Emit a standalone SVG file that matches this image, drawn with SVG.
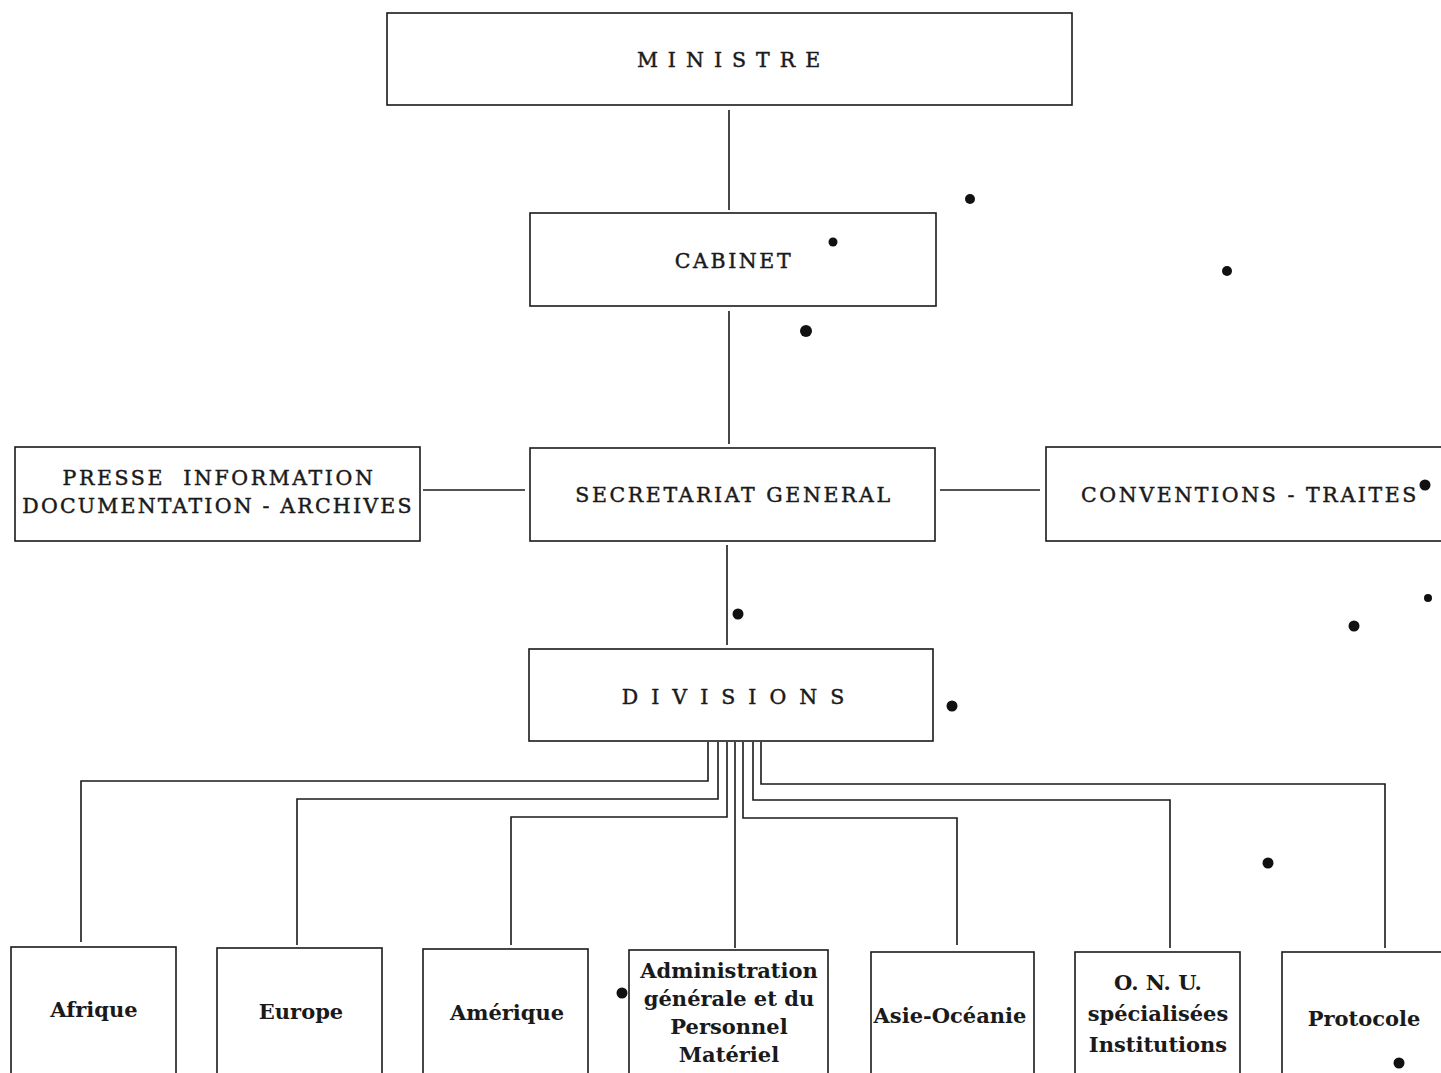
<svg xmlns="http://www.w3.org/2000/svg" width="1441" height="1073" viewBox="0 0 1441 1073">
<style>
.box{fill:#fff;stroke:#1a1a1a;stroke-width:1.6}
.t{font-family:"DejaVu Serif","Liberation Serif",serif;font-size:21px;font-weight:bold;fill:#1a1a1a;text-anchor:middle}
.cap{font-size:20.5px;font-weight:normal;letter-spacing:2.6px;stroke:#1a1a1a;stroke-width:0.45}
.c{fill:none;stroke:#1a1a1a;stroke-width:1.6}
.dot{fill:#111}
</style>
<rect width="1441" height="1073" fill="#fff"/>
<g id="connectors">
<path class="c" d="M729 110V210"/>
<path class="c" d="M729 311V444"/>
<path class="c" d="M423 490H525"/>
<path class="c" d="M940 490H1040"/>
<path class="c" d="M727 545V645"/>
<path class="c" d="M708 742V781H81V942"/>
<path class="c" d="M718 742V799H297V945"/>
<path class="c" d="M727 742V817H511V945"/>
<path class="c" d="M735 742V948"/>
<path class="c" d="M743 742V818H957V945"/>
<path class="c" d="M753 742V800H1170V948"/>
<path class="c" d="M761 742V784H1385V948"/>
</g>
<g id="ministre"><rect class="box" x="387" y="13" width="685" height="92"/><text class="t cap" x="733.5" y="67" style="letter-spacing:10px">MINISTRE</text></g>
<g id="cabinet"><rect class="box" x="530" y="213" width="406" height="93"/><text class="t cap" x="734" y="268">CABINET</text></g>
<g id="secretariat"><rect class="box" x="530" y="448" width="405" height="93"/><text class="t cap" x="734" y="502">SECRETARIAT GENERAL</text></g>
<g id="presse"><rect class="box" x="15" y="447" width="405" height="94"/><text class="t cap" x="219" y="485" xml:space="preserve">PRESSE  INFORMATION</text><text class="t cap" x="218" y="513" style="letter-spacing:2.2px">DOCUMENTATION - ARCHIVES</text></g>
<g id="conventions"><rect class="box" x="1046" y="447" width="400" height="94"/><text class="t cap" x="1250" y="502">CONVENTIONS - TRAITES</text></g>
<g id="divisions"><rect class="box" x="529" y="649" width="404" height="92"/><text class="t cap" x="739.5" y="704" style="letter-spacing:13px">DIVISIONS</text></g>
<g id="afrique"><rect class="box" x="11" y="947" width="165" height="130"/><text class="t" x="94" y="1017">Afrique</text></g>
<g id="europe"><rect class="box" x="217" y="948" width="165" height="130"/><text class="t" x="301" y="1019">Europe</text></g>
<g id="amerique"><rect class="box" x="423" y="949" width="165" height="130"/><text class="t" x="507" y="1020">Amérique</text></g>
<g id="administration"><rect class="box" x="629" y="950" width="199" height="130"/><text class="t" x="729" y="978">Administration</text><text class="t" x="729" y="1006">générale et du</text><text class="t" x="729" y="1034">Personnel</text><text class="t" x="729" y="1062">Matériel</text></g>
<g id="asie"><rect class="box" x="871" y="952" width="163" height="130"/><text class="t" x="950" y="1023">Asie-Océanie</text></g>
<g id="onu"><rect class="box" x="1075" y="952" width="165" height="130"/><text class="t" x="1158" y="990" font-size="20.5">O. N. U.</text><text class="t" x="1158" y="1021" font-size="20.5">spécialisées</text><text class="t" x="1158" y="1052" font-size="20.5">Institutions</text></g>
<g id="protocole"><rect class="box" x="1282" y="952" width="165" height="130"/><text class="t" x="1364" y="1026">Protocole</text></g>
<g id="specks">
<circle class="dot" cx="970" cy="199" r="5"/>
<circle class="dot" cx="833" cy="242" r="4.5"/>
<circle class="dot" cx="1227" cy="271" r="5"/>
<circle class="dot" cx="806" cy="331" r="6"/>
<circle class="dot" cx="1425" cy="485" r="5.5"/>
<circle class="dot" cx="738" cy="614" r="5.5"/>
<circle class="dot" cx="1428" cy="598" r="4"/>
<circle class="dot" cx="1354" cy="626" r="5.5"/>
<circle class="dot" cx="952" cy="706" r="5.5"/>
<circle class="dot" cx="1268" cy="863" r="5.5"/>
<circle class="dot" cx="622" cy="993" r="5.5"/>
<circle class="dot" cx="1399" cy="1063" r="5.5"/>
</g>
</svg>
